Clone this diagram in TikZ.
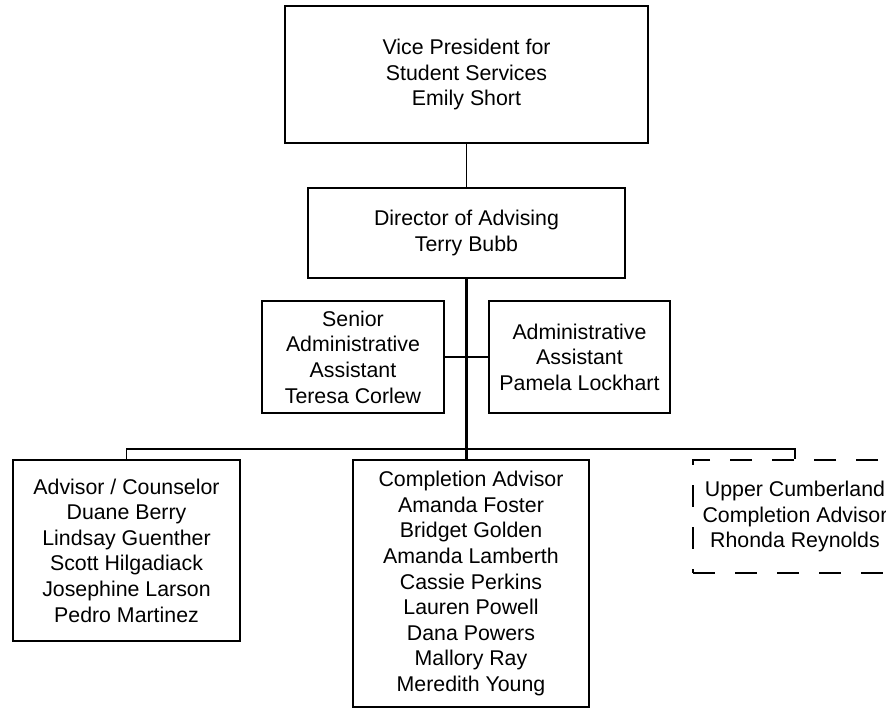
\documentclass[tikz,border=0pt]{standalone}
\usepackage{fontspec}
\setmainfont{Liberation Sans}
\def\pxu{0.75pt}
\tikzset{
  box/.style={draw=black, line width=1.6*\pxu, rectangle, align=center, inner sep=0pt,
    font=\fontsize{16pt}{19.2pt}\selectfont},
  dbox/.style={box, dash pattern=on 22*\pxu off 20*\pxu},
  conn/.style={draw=black, line width=1.6*\pxu},
  trunk/.style={draw=black, line width=2.8*\pxu},
}
\begin{document}
\begin{tikzpicture}[x=0.75pt, y=-0.75pt]
\clip (0,0) rectangle (886,709);
\fill[white] (0,0) rectangle (886,709);
\node[box, minimum width=363*\pxu, minimum height=137*\pxu] (vp) at (466.5,74.5)
  {Vice President for\\Student Services\\Emily Short};
\node[box, minimum width=317*\pxu, minimum height=90*\pxu] (dir) at (466.5,233)
  {Director of Advising\\Terry Bubb};
\node[box, minimum width=182*\pxu, minimum height=112*\pxu] (sen) at (353,357)
  {Senior\\Administrative\\Assistant\\Teresa Corlew};
\node[box, minimum width=181*\pxu, minimum height=112*\pxu] (adm) at (579.5,357)
  {Administrative\\Assistant\\Pamela Lockhart};
\node[box, minimum width=227*\pxu, minimum height=181*\pxu] (lb) at (126.5,550.5)
  {Advisor / Counselor\\Duane Berry\\Lindsay Guenther\\Scott Hilgadiack\\Josephine Larson\\Pedro Martinez};
\node[box, minimum width=236*\pxu, minimum height=247*\pxu] (cb) at (471,583.5)
  {Completion Advisor\\Amanda Foster\\Bridget Golden\\Amanda Lamberth\\Cassie Perkins\\Lauren Powell\\Dana Powers\\Mallory Ray\\Meredith Young};
\node[dbox, minimum width=204*\pxu, minimum height=113*\pxu] (rb) at (795,516.5)
  {Upper Cumberland\\Completion Advisor\\Rhonda Reynolds};
\coordinate (bus) at (467,449);
\draw[conn] (vp.south) -- (dir.north);
\draw[trunk] (dir.south) -- (dir.south |- cb.north);
\draw[conn] (sen.east) -- (adm.west);
\draw[conn] (lb.north) -- (lb.north |- bus) -- (rb.north |- bus) -- (rb.north);
\end{tikzpicture}
\end{document}
